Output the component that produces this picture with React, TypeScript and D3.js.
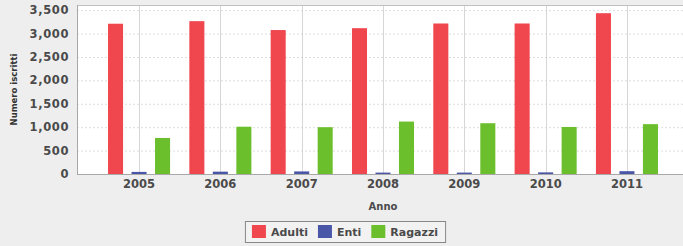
import * as React from "react";
import * as d3 from "d3";

const anni = ["2005", "2006", "2007", "2008", "2009", "2010", "2011"];
const serie = ["Adulti", "Enti", "Ragazzi"];
const adulti = [3210, 3265, 3075, 3115, 3215, 3215, 3435];
const enti = [45, 50, 55, 30, 30, 35, 60];
const ragazzi = [770, 1010, 1000, 1120, 1085, 1005, 1065];
const yTicks = [0, 500, 1000, 1500, 2000, 2500, 3000, 3500];
const colori = ["#f0474f", "#4a56a8", "#6cbf2c"];

const W = 683;
const H = 246;

export default function App() {
  const ref = React.useRef<SVGSVGElement>(null);

  React.useEffect(() => {
    const svg = d3.select(ref.current);
    svg.selectAll("*").remove();

    const left = 77, right = 689, top = 5, bottom = 174;

    const x = d3.scaleBand().domain(anni).range([left, right]).paddingInner(0).paddingOuter(0.263);
    const x1 = d3.scaleBand().domain(serie).range([0, x.bandwidth()]).paddingInner(0.36).paddingOuter(0.41);
    const y = d3.scaleLinear().domain([0, 3610]).range([bottom, top]);

    svg.append("rect").attr("width", W).attr("height", H).attr("fill", "#eeeeee");
    svg.append("rect").attr("x", left).attr("y", top).attr("width", right - left).attr("height", bottom - top)
      .attr("fill", "#ffffff");

    // griglia
    svg.append("g").selectAll("line").data(yTicks.slice(1)).join("line")
      .attr("x1", left).attr("x2", right)
      .attr("y1", d => y(d) + 0.5).attr("y2", d => y(d) + 0.5)
      .attr("stroke", "#dcdcdc").attr("stroke-dasharray", "2,2");
    svg.append("g").selectAll("line").data(anni).join("line")
      .attr("x1", d => Math.round(x(d)! + x.bandwidth() / 2) + 0.5)
      .attr("x2", d => Math.round(x(d)! + x.bandwidth() / 2) + 0.5)
      .attr("y1", top).attr("y2", bottom)
      .attr("stroke", "#d6d6d6");

    const valori = [adulti, enti, ragazzi];
    serie.forEach((s, si) => {
      svg.append("g").selectAll("rect").data(valori[si]).join("rect")
        .attr("x", (d, i) => x(anni[i])! + x1(s)!)
        .attr("width", x1.bandwidth())
        .attr("y", d => y(d))
        .attr("height", d => bottom - y(d))
        .attr("fill", colori[si]);
    });

    // bordo
    svg.append("line").attr("x1", left).attr("x2", right).attr("y1", top + 0.5).attr("y2", top + 0.5).attr("stroke", "#c0c0c0");
    svg.append("line").attr("x1", left + 0.5).attr("x2", left + 0.5).attr("y1", top).attr("y2", bottom).attr("stroke", "#a8a8a8");
    svg.append("line").attr("x1", left).attr("x2", right).attr("y1", bottom + 0.5).attr("y2", bottom + 0.5).attr("stroke", "#a8a8a8");

    const font = "DejaVu Sans, sans-serif";
    const fmt = d3.format(",");

    svg.append("g").selectAll("text").data(yTicks).join("text")
      .attr("x", 69).attr("y", d => y(d) + 4)
      .attr("text-anchor", "end")
      .attr("font-family", font).attr("font-weight", "bold").attr("font-size", 11.5)
      .attr("letter-spacing", 0.6)
      .attr("fill", "#4a4a4a").text(d => fmt(d));

    svg.append("g").selectAll("text").data(anni).join("text")
      .attr("x", d => x(d)! + x.bandwidth() / 2).attr("y", 188)
      .attr("text-anchor", "middle")
      .attr("font-family", font).attr("font-weight", "bold").attr("font-size", 11.5)
      .attr("fill", "#4a4a4a").text(d => d);

    svg.append("text").attr("x", (left + right) / 2).attr("y", 210)
      .attr("text-anchor", "middle")
      .attr("font-family", font).attr("font-weight", "bold").attr("font-size", 10)
      .attr("fill", "#4a4a4a").text("Anno");

    svg.append("text").attr("transform", `translate(17,${(top + bottom) / 2}) rotate(-90)`)
      .attr("text-anchor", "middle")
      .attr("font-family", font).attr("font-weight", "bold").attr("font-size", 8.5)
      .attr("fill", "#333").text("Numero iscritti");

    // legenda
    const leg = svg.append("g");
    let cx = 0;
    serie.forEach((s, i) => {
      const g = leg.append("g");
      g.append("rect").attr("x", cx).attr("y", 225).attr("width", 14).attr("height", 13).attr("fill", colori[i]);
      const t = g.append("text").attr("x", cx + 19).attr("y", 236)
        .attr("font-family", font).attr("font-weight", "bold").attr("font-size", 11)
        .attr("fill", "#4a4a4a").text(s);
      const tw = (t.node() as SVGTextElement).getComputedTextLength();
      cx += 19 + tw + 10;
    });
    const lw = cx - 10 + 14;
    const lx = 345 - lw / 2;
    leg.insert("rect", ":first-child").attr("x", -7 + 0.5).attr("y", 221.5).attr("width", lw).attr("height", 21)
      .attr("fill", "#f2f2f2").attr("stroke", "#888");
    leg.attr("transform", `translate(${lx + 7},0)`);
  }, []);

  return <svg ref={ref} width={W} height={H} style={{ display: "block", position: "absolute", left: 0, top: 0 }} />;
}
